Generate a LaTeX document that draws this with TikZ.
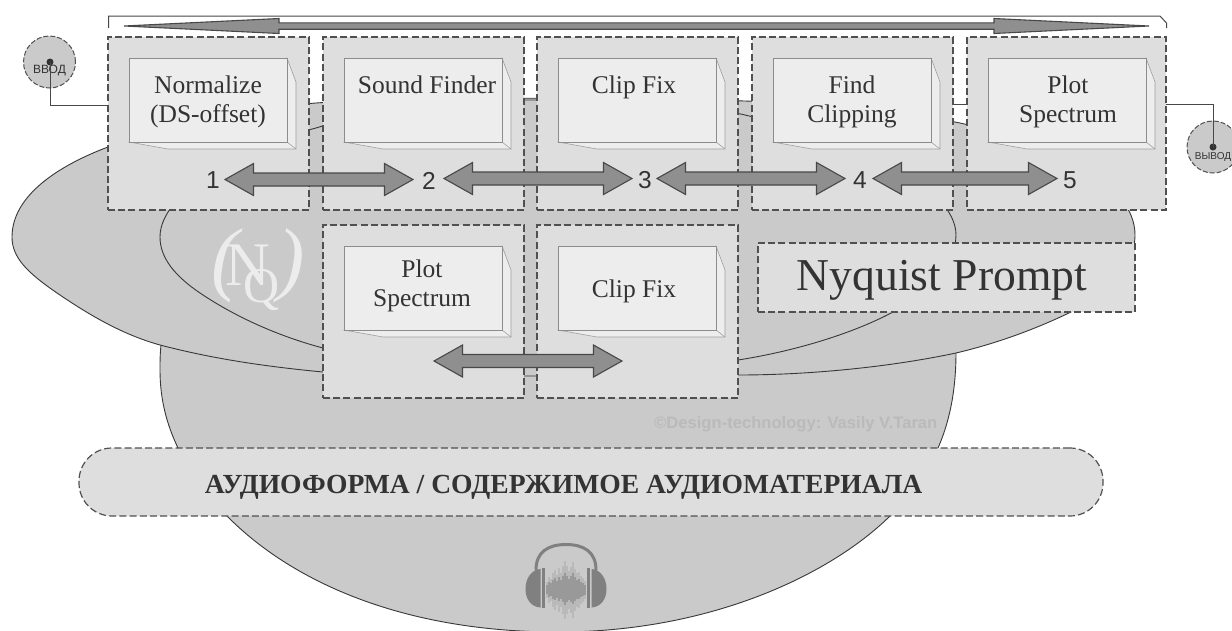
\documentclass[tikz,border=0pt]{standalone}
\usepackage{fontspec}
\usetikzlibrary{calc}
\setmainfont{Liberation Serif}
\newfontfamily\arialf{Liberation Sans}
\definecolor{blobfill}{HTML}{CACACA}
\definecolor{boxfill}{HTML}{DEDEDE}
\definecolor{facefill}{HTML}{EDEDED}
\definecolor{dashcol}{HTML}{505050}
\definecolor{arrowfill}{HTML}{8F8F8F}
\definecolor{arrowline}{HTML}{484848}
\definecolor{inkcol}{HTML}{333333}
\definecolor{wmark}{HTML}{BABABA}
\definecolor{logocol}{HTML}{ECECEC}
\definecolor{phonecol}{HTML}{808080}
\tikzset{
  blob/.style={fill=blobfill,draw=black!78,line width=0.9pt},
  dashbox/.style={draw=dashcol,fill=boxfill,line width=1.2pt,dash pattern=on 7pt off 3.2pt,inner sep=0pt,outer sep=0pt},
  face/.style={fill=facefill,draw=black!45,line width=0.7pt,inner sep=0pt,outer sep=0pt,minimum width=158pt,minimum height=84pt},
  sideface/.style={fill=facefill,draw=black!38,line width=0.6pt},
  lbl/.style={text=inkcol,align=center,inner sep=0pt,font=\fontsize{25.5}{29}\selectfont},
  num/.style={text=inkcol,inner sep=0pt,font=\arialf\fontsize{24.5}{26}\selectfont},
  arrowshape/.style={fill=arrowfill,draw=arrowline,line width=1.1pt,line join=miter},
  wire/.style={draw=black!72,line width=1pt},
  logo/.style={text=logocol,inner sep=0pt},
}
\newcommand\fxbox[4]{%
  \node[dashbox,anchor=north west,minimum width=#4pt,minimum height=173pt] (#1) at (#2,#3) {};
  \draw[sideface] ($(#1.north west)+(179,21)$) -- ++(9,24) -- ++(0,67) -- ++(-128,0) -- ($(#1.north west)+(21,105)$) -- cycle;
  \draw[sideface] ($(#1.north west)+(179,105)$) -- ++(9,7);
  \node[face,anchor=north west] (#1f) at ($(#1.north west)+(21,21)$) {};
}
% tip a, tip b, head length, head half height, shaft half height
\newcommand\dblarr[5]{%
  \draw[arrowshape] (#1) -- ($(#1)+(#3,-#4)$) -- ($(#1)+(#3,-#5)$) -- ($(#2)+(-#3,-#5)$) -- ($(#2)+(-#3,-#4)$) -- (#2)
    -- ($(#2)+(-#3,#4)$) -- ($(#2)+(-#3,#5)$) -- ($(#1)+(#3,#5)$) -- ($(#1)+(#3,#4)$) -- cycle;
}
\begin{document}
\begin{tikzpicture}[x=1pt,y=-1pt]
\useasboundingbox (0,0) rectangle (1232,630);
\clip (0,0) rectangle (1232,630);

% lower blob
\path[blob] (161,345) .. controls (160,355) and (160,362) .. (160,370)
  .. controls (160,400) and (167,425) .. (178,448)
  .. controls (190,475) and (207,497) .. (227,516)
  .. controls (290,580) and (400,632) .. (558,632)
  .. controls (710,632) and (830,575) .. (890,516)
  .. controls (910,495) and (926,475) .. (938,448)
  .. controls (948,425) and (956,395) .. (956,352) -- cycle;
% wide blob
\path[blob] (12,237) .. controls (12,195) and (60,165) .. (108,147)
  .. controls (170,122) and (250,108) .. (316,103)
  .. controls (400,97) and (600,97) .. (745,101)
  .. controls (830,104) and (900,111) .. (960,123)
  .. controls (1060,145) and (1135,185) .. (1135,235)
  .. controls (1135,270) and (1100,298) .. (1073,311)
  .. controls (1030,332) and (990,345) .. (956,353)
  .. controls (890,367) and (810,375) .. (738,375)
  .. controls (670,377) and (600,376) .. (530,375)
  .. controls (450,379) and (380,379) .. (323,372)
  .. controls (260,366) and (210,358) .. (160,345)
  .. controls (120,334) and (85,312) .. (57,293)
  .. controls (28,273) and (12,258) .. (12,237) -- cycle;
% inner blob
\path[blob] (160,237) .. controls (160,190) and (250,145) .. (316,128)
  .. controls (380,108) and (460,100) .. (530,100)
  .. controls (610,100) and (680,100) .. (745,115)
  .. controls (850,140) and (956,185) .. (956,235)
  .. controls (956,265) and (925,295) .. (893,312)
  .. controls (850,335) and (790,352) .. (738,360)
  .. controls (670,372) and (580,376) .. (530,376)
  .. controls (450,376) and (380,362) .. (323,348)
  .. controls (285,338) and (240,320) .. (200,293)
  .. controls (175,276) and (160,258) .. (160,237) -- cycle;

% logo
\node[logo,anchor=base west] (logo) at (211,285) {\fontsize{82}{82}\selectfont\itshape(\kern-13pt\upshape\fontsize{62}{62}\selectfont N\kern-27pt\raisebox{-17pt}{\fontsize{50}{50}\selectfont Q}\kern-2pt\itshape\fontsize{82}{82}\selectfont)};

% watermark
\node[text=wmark,inner sep=0pt,anchor=base west,font=\arialf\bfseries\fontsize{16.6}{18}\selectfont] (wm) at (654,428) {©Design-technology: Vasily V.Taran};

% wires
\coordinate (wa) at (108,105);
\coordinate (wb) at (1166,104);
\coordinate (wc) at (953,104);
\coordinate (wd) at (967,104);
\draw[wire] (wc) -- (wd);

% top bracket
\coordinate (bl) at (108.5,28);
\coordinate (br) at (1166.5,28);
\draw[wire,line join=miter] (bl) -- (108.5,16) -- (1160,16) -- (1166.5,23) -- (br);

% boxes
\fxbox{b1}{108}{37}{201}
\fxbox{b2}{323}{37}{201}
\fxbox{b3}{537}{37}{201}
\fxbox{b4}{752}{37}{201}
\fxbox{b5}{967}{37}{199}
\fxbox{c1}{323}{225}{201}
\fxbox{c2}{537}{225}{201}

% box labels
\node[lbl] (t1) at (208,101.5) {Normalize\\(DS-offset)};
\node[lbl,anchor=base] (t2) at (427,93) {Sound Finder};
\node[lbl,anchor=base] (t3) at (634,93) {Clip Fix};
\node[lbl] (t4) at (852,101.5) {Find\\Clipping};
\node[lbl] (t5) at (1068,101.5) {Plot\\Spectrum};
\node[lbl] (t6) at (422,285.5) {Plot\\Spectrum};
\node[lbl,anchor=base] (t7) at (634,297) {Clip Fix};

% numbers
\node[num] (n1) at (213,180.5) {1};
\node[num] (n2) at (429,180.5) {2};
\node[num] (n3) at (645,180.5) {3};
\node[num] (n4) at (860,180.5) {4};
\node[num] (n5) at (1070,180.5) {5};

% arrows
\coordinate (a1) at (225,179.5); \coordinate (a2) at (413,179.5);
\coordinate (a3) at (444,178.5); \coordinate (a4) at (632,178.5);
\coordinate (a5) at (657,178.5); \coordinate (a6) at (845,178.5);
\coordinate (a7) at (873,178.5); \coordinate (a8) at (1057,178.5);
\coordinate (a9) at (434,361); \coordinate (a10) at (622,361);
\coordinate (a11) at (124,26); \coordinate (a12) at (1149,26);
\dblarr{a1}{a2}{28.5}{16}{6.5}
\dblarr{a3}{a4}{28.5}{16}{6.5}
\dblarr{a5}{a6}{28.5}{16}{6.5}
\dblarr{a7}{a8}{28.5}{16}{6.5}
\dblarr{a9}{a10}{28.5}{16}{6.5}
\dblarr{a11}{a12}{155}{7.5}{3.2}

% input / output
\node[circle,dashbox,fill=blobfill,minimum size=52pt,line width=1pt,dash pattern=on 5pt off 2pt] (inp) at (49.5,62) {};
\node[circle,dashbox,fill=blobfill,minimum size=52pt,line width=1pt,dash pattern=on 5pt off 2pt] (outp) at (1213,147) {};
\node[text=inkcol,inner sep=0pt,font=\arialf\fontsize{12}{13}\selectfont] (inlab) at (49.5,71) {ВВОД};
\node[text=inkcol,inner sep=0pt,font=\arialf\fontsize{10}{11}\selectfont] (outlab) at (1213,157) {ВЫВОД};
\node[circle,fill=black!80,inner sep=0pt,minimum size=7pt] (ind) at (50,62) {};
\node[circle,fill=black!80,inner sep=0pt,minimum size=7pt] (outd) at (1213,147) {};
\draw[wire] (ind.center) |- (wa);
\draw[wire] (outd.center) |- (wb);

% Nyquist box
\node[dashbox,minimum width=377pt,minimum height=69pt,anchor=north west] (ny) at (758,243) {};
\node[text=inkcol,inner sep=0pt,anchor=base,font=\fontsize{45.6}{48}\selectfont] (nyt) at (942,290) {Nyquist Prompt};

% audio bar
\node[dashbox,rounded corners=33pt,minimum width=1024pt,minimum height=68pt,anchor=north west] (bar) at (79,448) {};
\node[text=inkcol,inner sep=0pt,anchor=base,font=\bfseries\fontsize{27.6}{30}\selectfont] (bart) at (563.5,493) {АУДИОФОРМА / СОДЕРЖИМОЕ АУДИОМАТЕРИАЛА};

% headphones
\draw[phonecol,line width=3pt,line cap=round] (536,570) .. controls (536,552) and (548,544.5) .. (566,544.5) .. controls (584,544.5) and (596,552) .. (596,570);
\fill[phonecol] (540.5,569) .. controls (530,570) and (525.5,580) .. (525.5,589) .. controls (525.5,599) and (531,607) .. (540.5,607.5) -- cycle;
\fill[phonecol] (591.5,569) .. controls (602,570) and (606.5,580) .. (606.5,589) .. controls (606.5,599) and (601,607) .. (591.5,607.5) -- cycle;
\draw[phonecol,line width=2.2pt] (543.5,568) -- (543.5,608);
\draw[phonecol,line width=2.2pt] (588.5,568) -- (588.5,608);
\foreach \x/\h in {547/8,549/13,551/11,553/17,555/20,557/15,559/22,561/17,563/24,565/29,567/24,569/19,571/23,573/28,575/21,577/17,579/18,581/14,583/12,585/9}{
  \draw[phonecol,opacity=0.22,line width=2pt] (\x,590-\h) -- (\x,590+\h);
  \draw[phonecol,opacity=0.55,line width=1.1pt] (\x,590-0.6*\h) -- (\x,590+0.5*\h);
}
\end{tikzpicture}
\end{document}
